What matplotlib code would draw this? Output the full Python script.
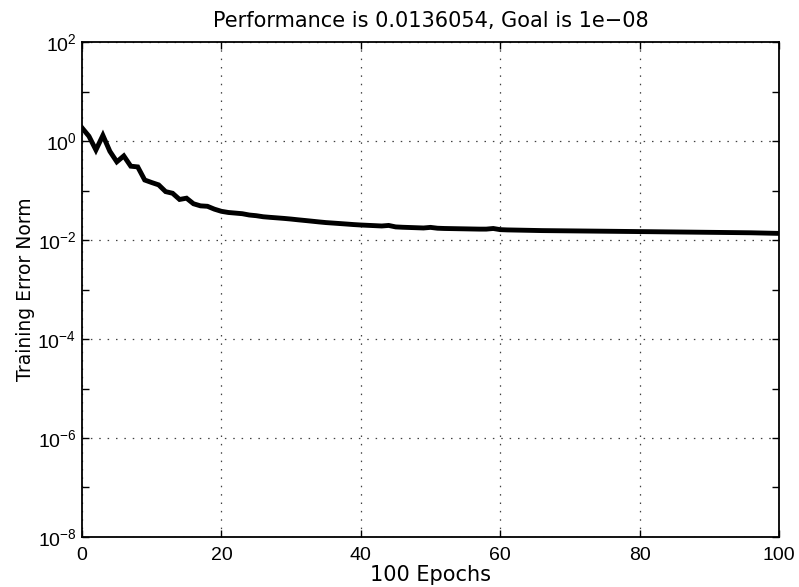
import matplotlib
matplotlib.use("Agg")
import matplotlib.pyplot as plt
from matplotlib.ticker import FixedLocator, NullFormatter

plt.rcParams['font.family'] = ['Liberation Sans', 'DejaVu Sans']
plt.rcParams['mathtext.fontset'] = 'custom'
plt.rcParams['mathtext.rm'] = 'Liberation Sans'
plt.rcParams['mathtext.it'] = 'Liberation Sans'

epochs = list(range(0, 101))
perf = [
    1.85, 1.25, 0.66, 1.30, 0.62, 0.38, 0.50, 0.31, 0.30, 0.163,
    0.145, 0.130, 0.095, 0.088, 0.066, 0.070, 0.054, 0.049, 0.048, 0.042,
    0.038, 0.036, 0.035, 0.034, 0.032, 0.031, 0.0295, 0.0287, 0.0280, 0.0273,
    0.0265, 0.0256, 0.0248, 0.0240, 0.0232, 0.0225, 0.0220, 0.0215, 0.0210, 0.0205,
    0.0201, 0.0198, 0.0195, 0.0192, 0.0197, 0.0184, 0.0181, 0.0179, 0.0177, 0.0175,
    0.0180, 0.0173, 0.0171, 0.0170, 0.0169, 0.0168, 0.0167, 0.0166, 0.0166, 0.0171,
    0.0162, 0.0160, 0.0159, 0.0158, 0.0157, 0.0156, 0.0155, 0.01545, 0.0154, 0.01535,
    0.0153, 0.01525, 0.0152, 0.01515, 0.0151, 0.01505, 0.0150, 0.01495, 0.0149, 0.01485,
    0.0148, 0.01475, 0.0147, 0.01465, 0.0146, 0.01455, 0.0145, 0.01445, 0.0144, 0.01435,
    0.0143, 0.01425, 0.0142, 0.01415, 0.0141, 0.01405, 0.0140, 0.0139, 0.0138, 0.0137,
    0.0136054,
]
title = "Performance is 0.0136054, Goal is 1e\u221208"
xlabel = "100 Epochs"
ylabel = "Training Error Norm"
xticks = [0, 20, 40, 60, 80, 100]
yticks_major = [1e-8, 1e-6, 1e-4, 1e-2, 1e0, 1e2]
yticks_minor = [1e-7, 1e-5, 1e-3, 1e-1, 1e1]
ytick_labels = [r"$10^{-8}$", r"$10^{-6}$", r"$10^{-4}$", r"$10^{-2}$", r"$10^{0}$", r"$10^{2}$"]

fig = plt.figure(figsize=(7.99, 5.87), dpi=100)
ax = fig.add_axes([0.1026, 0.0852, 0.975 - 0.1026, 0.9284 - 0.0852])
ax.semilogy(epochs, perf, color='k', linewidth=3.5, solid_joinstyle='miter')
ax.set_xlim(0, 100)
ax.set_ylim(1e-8, 1e2)
ax.set_xticks(xticks)
ax.set_xticklabels([str(t) for t in xticks])
ax.yaxis.set_major_locator(FixedLocator(yticks_major))
ax.set_yticklabels(ytick_labels)
ax.yaxis.set_minor_locator(FixedLocator(yticks_minor))
ax.yaxis.set_minor_formatter(NullFormatter())
ax.xaxis.set_minor_locator(FixedLocator([]))
ax.tick_params(which='both', direction='in', top=True, right=True, labelsize=14, pad=4)
ax.tick_params(axis='x', pad=7)
ax.tick_params(which='both', length=5, width=1)
ax.grid(True, which='major', color='k', linestyle=(0, (1.2, 5.5)), linewidth=0.9, alpha=0.75)
for s in ax.spines.values():
    s.set_linewidth(1.3)
ax.set_title(title, fontsize=15, pad=11, family=['DejaVu Sans'])
ax.set_xlabel(xlabel, fontsize=15, labelpad=1, family=['DejaVu Sans'])
ax.set_ylabel(ylabel, fontsize=13.5, labelpad=2, family=['DejaVu Sans'])
fig.savefig("out.png", dpi=100)
